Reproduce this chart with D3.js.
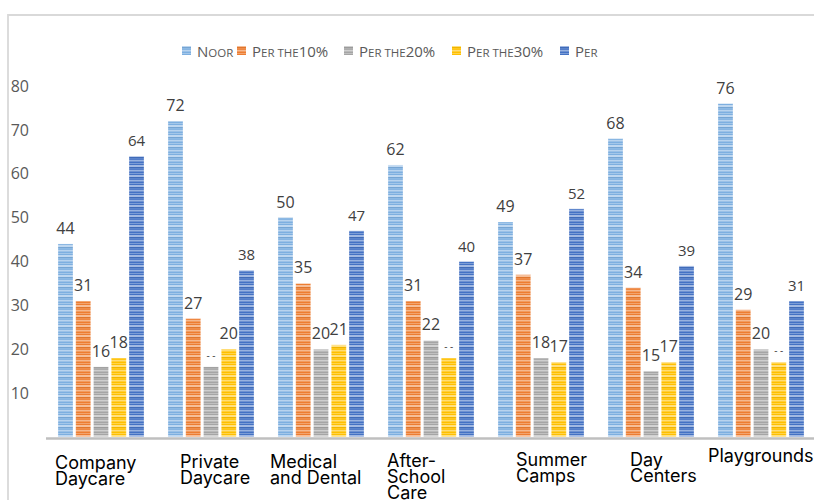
<!DOCTYPE html>
<html>
<head>
<meta charset="utf-8">
<script src="https://cdn.jsdelivr.net/npm/d3@7"></script>
<style>
  html, body { margin: 0; padding: 0; background: #fff; }
  svg { display: block; }
</style>
</head>
<body>
<svg id="chart" width="814" height="500"></svg>
<script>
// ---- data ----
const categories = ["Company Daycare", "Private Daycare", "Medical and Dental",
  "After-School Care", "Summer Camps", "Day Centers", "Playgrounds"];
const categoryLines = [["Company", "Daycare"], ["Private", "Daycare"], ["Medical", "and Dental"],
  ["After-", "School", "Care"], ["Summer", "Camps"], ["Day", "Centers"], ["Playgrounds"]];
const seriesNames = ["Noor", "Per the10%", "Per the20%", "Per the30%", "Per"];
const noor     = [44, 72, 50, 62, 49, 68, 76];
const perThe10 = [31, 27, 35, 31, 37, 34, 29];
const perThe20 = [16, 16, 20, 22, 18, 15, 20];
const perThe30 = [18, 20, 21, 18, 17, 17, 17];
const per      = [64, 38, 47, 40, 52, 39, 31];
const seriesValues = [noor, perThe10, perThe20, perThe30, per];
// labels that are cut off and only show as dashes
const hiddenLabels = [[], [], [1], [3, 6], []];
const yTicks = [10, 20, 30, 40, 50, 60, 70, 80];

// ---- styling / layout ----
const colors = ["#7dafe0", "#ed7d31", "#a5a5a5", "#ffc000", "#4472c4"];
const labelSizes = [16, 16, 16, 16, 15];
const labelNudge = [[-3, 469], [12, 468], [-8, 468], [-1, 467], [18, 466], [22, 466], [-10, 462]];
const legendX = [182, 237, 344, 452, 560];
const FONT = "'Open Sans', 'Liberation Sans', sans-serif";
const CAT_FONT = "Inter, 'Open Sans', sans-serif";

const svg = d3.select("#chart");
const defs = svg.append("defs");

// striped texture for each series
colors.forEach((c, i) => {
  const p = defs.append("pattern")
    .attr("id", "tex" + i)
    .attr("patternUnits", "userSpaceOnUse")
    .attr("width", 6).attr("height", 10);
  p.append("rect").attr("width", 6).attr("height", 10).attr("fill", c);
  [[0, 1.5, 0.45], [3, 1, 0.3], [5, 2, 0.5], [8.5, 0.8, 0.25]].forEach(([y, h, o]) => {
    p.append("rect").attr("x", 0).attr("y", y).attr("width", 6).attr("height", h)
      .attr("fill", "#fff").attr("fill-opacity", o);
  });
  p.append("rect").attr("x", 0).attr("y", 7).attr("width", 6).attr("height", 1)
    .attr("fill", "#000").attr("fill-opacity", 0.06);
});

// frame
svg.append("path")
  .attr("d", "M8,500 V15 H814")
  .attr("fill", "none")
  .attr("stroke", "#d9d9d9")
  .attr("stroke-width", 1.8);

// scales
const x0 = d3.scaleBand().domain(categories).range([46, 816])
  .paddingInner(0.218).paddingOuter(0.109);
const x1 = d3.scaleBand().domain(d3.range(seriesNames.length))
  .range([0, x0.bandwidth()]).paddingInner(0.155).paddingOuter(0);
const y = d3.scaleLinear().domain([0, 80]).range([437, 86]);

// y-axis labels (no axis line, no gridlines)
const yAxis = d3.axisLeft(y).tickValues(yTicks).tickSize(0).tickPadding(0);
const yg = svg.append("g").attr("transform", "translate(29,0)").call(yAxis);
yg.select(".domain").remove();
yg.selectAll("text")
  .attr("font-family", FONT)
  .attr("font-size", 16)
  .attr("fill", "#595959")
  .attr("dy", "0.32em");

// bars
const groups = svg.append("g").selectAll("g")
  .data(categories)
  .join("g")
  .attr("transform", d => `translate(${x0(d)},0)`);

groups.each(function (cat, ci) {
  const g = d3.select(this);
  seriesValues.forEach((vals, si) => {
    const v = vals[ci];
    g.append("rect")
      .attr("x", x1(si))
      .attr("y", y(v))
      .attr("width", x1.bandwidth())
      .attr("height", y(0) - y(v))
      .attr("fill", `url(#tex${si})`)
      .attr("stroke", "#ffffff")
      .attr("stroke-opacity", 0.35)
      .attr("stroke-width", 0.8);
    const cx = x1(si) + x1.bandwidth() / 2;
    if (hiddenLabels[si].includes(ci)) {
      g.append("text")
        .attr("x", cx)
        .attr("y", y(v) - 8)
        .attr("text-anchor", "middle")
        .attr("font-family", FONT)
        .attr("font-size", 10)
        .attr("fill", "#404040")
        .text("-  -");
    } else {
      g.append("text")
        .attr("x", cx)
        .attr("y", y(v) - 10)
        .attr("text-anchor", "middle")
        .attr("font-family", FONT)
        .attr("font-size", labelSizes[si])
        .attr("fill", "#404040")
        .text(v);
    }
  });
});

// category axis line
const xAxis = d3.axisBottom(x0).tickSize(0).tickFormat("");
const xg = svg.append("g").attr("transform", "translate(0,438.5)").call(xAxis);
xg.select(".domain")
  .attr("stroke", "#bfbfbf")
  .attr("stroke-width", 2.5)
  .attr("d", "M46,0H814");

// category labels
categories.forEach((cat, ci) => {
  const [dx, by] = labelNudge[ci];
  const t = svg.append("text")
    .attr("font-family", CAT_FONT)
    .attr("font-size", 18)
    .attr("fill", "#000");
  categoryLines[ci].forEach((line, li) => {
    t.append("tspan")
      .attr("x", x0(cat) + dx)
      .attr("y", by + li * 16)
      .text(line);
  });
});

// legend with small-caps names
const legend = svg.append("g");
seriesNames.forEach((name, si) => {
  const lx = legendX[si];
  legend.append("rect")
    .attr("x", lx).attr("y", 46)
    .attr("width", 9).attr("height", 9)
    .attr("fill", `url(#tex${si})`);
  const t = legend.append("text")
    .attr("x", lx + 15).attr("y", 56.5)
    .attr("font-family", FONT)
    .attr("font-size", 15)
    .attr("fill", "#595959");
  // split into runs: leading capital full size, lowercase letters as small capitals, digits full size
  const runs = [];
  for (const ch of name) {
    const small = /[a-z ]/.test(ch);
    if (runs.length && runs[runs.length - 1].small === small) runs[runs.length - 1].s += ch;
    else runs.push({ small, s: ch });
  }
  runs.forEach(r => {
    t.append("tspan")
      .attr("font-size", r.small ? 11.5 : 15)
      .text(r.small ? r.s.toUpperCase() : r.s);
  });
});
</script>
</body>
</html>
